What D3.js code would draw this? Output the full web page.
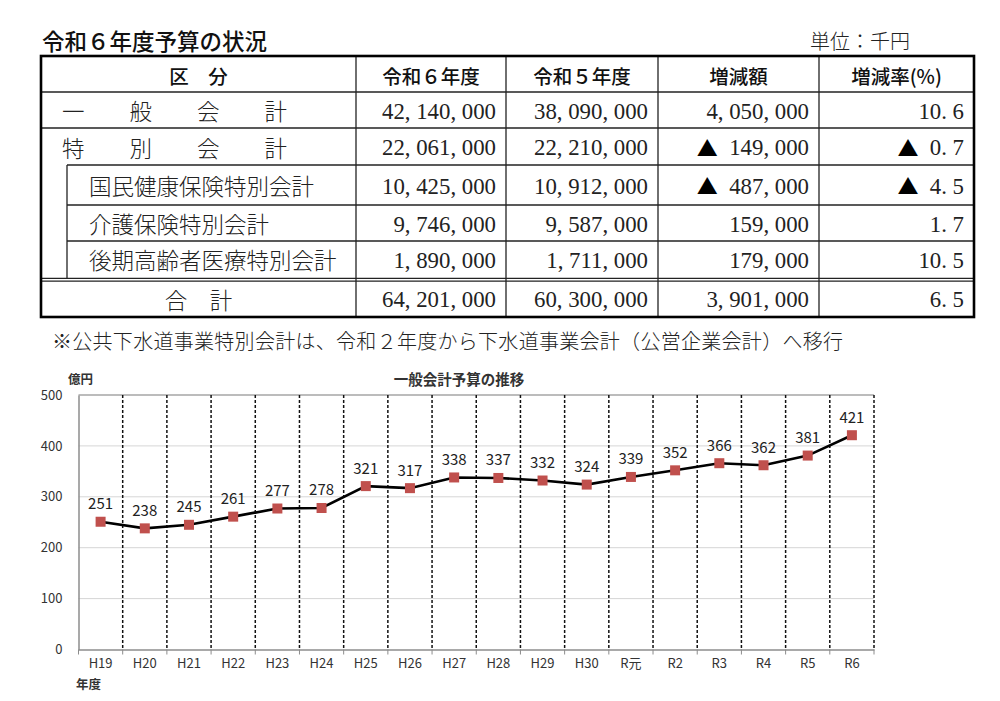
<!DOCTYPE html>
<html><head><meta charset="utf-8">
<script src="https://cdn.jsdelivr.net/npm/d3@7"></script>
<style>body{margin:0;background:#fff} svg{display:block}</style>
</head><body>
<svg id="c" width="1000" height="701"></svg>
<script>
// ---------- data ----------
const headers = ["区　分", "令和６年度", "令和５年度", "増減額", "増減率(%)"];
const rowLabels = ["一　　般　　会　　計", "特　　別　　会　　計", "国民健康保険特別会計", "介護保険特別会計", "後期高齢者医療特別会計", "合　計"];
const budgetR6 = [42140000, 22061000, 10425000, 9746000, 1890000, 64201000];
const budgetR5 = [38090000, 22210000, 10912000, 9587000, 1711000, 60300000];
const change = [4050000, -149000, -487000, 159000, 179000, 3901000];
const changeRate = [10.6, -0.7, -4.5, 1.7, 10.5, 6.5];

const years = ["H19","H20","H21","H22","H23","H24","H25","H26","H27","H28","H29","H30","R元","R2","R3","R4","R5","R6"];
const generalBudget = [251,238,245,261,277,278,321,317,338,337,332,324,339,352,366,362,381,421];
const yTicks = [0,100,200,300,400,500];

(function () {
// ---------- setup ----------
const svg = d3.select("#c");
const JP = "'Noto Sans CJK JP', sans-serif";
const SERIF = "'Liberation Serif', 'DejaVu Serif', serif";
const NARROW = "'Liberation Sans Narrow', 'Arial Narrow', 'Noto Sans CJK JP', sans-serif";

// ---------- titles ----------
svg.append("text").attr("x", 42).attr("y", 40).attr("dominant-baseline", "central")
  .attr("font-family", JP).attr("font-size", 22.5).attr("font-weight", 500).attr("fill", "#111")
  .text("令和６年度予算の状況");
svg.append("text").attr("x", 810).attr("y", 40).attr("dominant-baseline", "central")
  .attr("font-family", JP).attr("font-size", 20).attr("font-weight", 300).attr("fill", "#222")
  .text("単位：千円");

// ---------- table ----------
const colX = [41, 356, 506, 658, 819, 974];
const t = svg.append("g");
const lineC = "#222";
headers.forEach((h, i) => {
  t.append("text").attr("x", (colX[i] + colX[i+1]) / 2).attr("y", 75)
    .attr("text-anchor", "middle").attr("dominant-baseline", "central")
    .attr("font-family", JP).attr("font-size", 19.5).attr("font-weight", 500).attr("fill", "#111")
    .text(h);
});
const fmtNum = v => d3.format(",")(Math.abs(v)).replace(/,/g, ", ");
const fmtRate = v => d3.format(".1f")(Math.abs(v)).replace(".", ". ");
const rowsCenter = [110, 146.5, 185, 223, 259, 298.5];
rowLabels.forEach((lab, r) => {
  const cy = rowsCenter[r];
  const lt = t.append("text").attr("y", cy).attr("dominant-baseline", "central")
    .attr("font-family", JP).attr("font-size", 22.5).attr("font-weight", 300).attr("fill", "#222").text(lab);
  if (r < 2) lt.attr("x", 62);
  else if (r < 5) lt.attr("x", 89);
  else lt.attr("x", (colX[0] + colX[1]) / 2).attr("text-anchor", "middle");
  const cells = [fmtNum(budgetR6[r]), fmtNum(budgetR5[r]), fmtNum(change[r]), fmtRate(changeRate[r])];
  const neg = [false, false, change[r] < 0, changeRate[r] < 0];
  cells.forEach((s, c) => {
    const xr = colX[c + 2] - 10;
    const tx = t.append("text").attr("x", xr).attr("y", cy + 1).attr("text-anchor", "end")
      .attr("dominant-baseline", "central").attr("font-family", SERIF).attr("font-size", 22.8)
      .attr("fill", "#222").text(s);
    if (neg[c]) {
      const w = tx.node().getComputedTextLength();
      t.append("text").attr("x", xr - w - 11.4).attr("y", cy).attr("text-anchor", "end")
        .attr("dominant-baseline", "central").attr("font-family", JP).attr("font-size", 21)
        .attr("fill", "#000").text("▲");
    }
  });
});
const hl = (x1, x2, yy, w) => t.append("line").attr("x1", x1).attr("x2", x2).attr("y1", yy).attr("y2", yy).attr("stroke", lineC).attr("stroke-width", w || 1.3);
const vl = (xx, y1, y2, w) => t.append("line").attr("x1", xx).attr("x2", xx).attr("y1", y1).attr("y2", y2).attr("stroke", lineC).attr("stroke-width", w || 1.3);
hl(colX[0], colX[5], 92); hl(colX[0], colX[5], 128);
[165, 205, 241].forEach(yy => hl(67, colX[5], yy));
hl(colX[0], colX[5], 278.3); hl(colX[0], colX[5], 281.2);
vl(67, 165, 278.3);
[1, 2, 3, 4].forEach(i => vl(colX[i], 56, 317));
t.append("rect").attr("x", colX[0]).attr("y", 56).attr("width", colX[5] - colX[0]).attr("height", 317 - 56)
  .attr("fill", "none").attr("stroke", "#000").attr("stroke-width", 2.6);

svg.append("text").attr("x", 52).attr("y", 340).attr("dominant-baseline", "central")
  .attr("font-family", JP).attr("font-size", 20).attr("font-weight", 300).attr("fill", "#222")
  .attr("textLength", 791).attr("lengthAdjust", "spacing")
  .text("※公共下水道事業特別会計は、令和２年度から下水道事業会計（公営企業会計）へ移行");

// ---------- chart ----------
const pLeft = 78.5, pRight = 874, pTop = 395, pBottom = 649.5;
const x = d3.scaleBand().domain(years).range([pLeft, pRight]).padding(0);
const y = d3.scaleLinear().domain([0, 500]).range([pBottom, pTop]);
const g = svg.append("g");

g.selectAll(".grid").data(yTicks.filter(v => v > 0 && v < 500)).join("line")
  .attr("x1", pLeft).attr("x2", pRight).attr("y1", d => y(d)).attr("y2", d => y(d))
  .attr("stroke", "#d6d6d6").attr("stroke-width", 1);
g.append("line").attr("x1", pLeft).attr("x2", pRight).attr("y1", y(500)).attr("y2", y(500))
  .attr("stroke", "#a6a6a6").attr("stroke-width", 1.5);
g.selectAll(".sep").data(years).join("line")
  .attr("x1", d => x(d) + x.bandwidth()).attr("x2", d => x(d) + x.bandwidth())
  .attr("y1", pTop).attr("y2", pBottom)
  .attr("stroke", "#111").attr("stroke-width", 1.5).attr("stroke-dasharray", "3,2");

const yAxis = d3.axisLeft(y).tickValues(yTicks).tickSize(0).tickPadding(16);
const ya = g.append("g").attr("transform", `translate(${pLeft},0)`).call(yAxis);
ya.select(".domain").attr("stroke", "#8c8c8c").attr("stroke-width", 1.5);
ya.selectAll("text").attr("font-family", NARROW).attr("font-size", 13).attr("fill", "#333");

const xAxis = d3.axisBottom(x).tickSize(0).tickPadding(9);
const xa = g.append("g").attr("transform", `translate(0,${pBottom})`).call(xAxis);
xa.select(".domain").attr("stroke", "#8c8c8c").attr("stroke-width", 1.5);
xa.selectAll("text").attr("font-family", NARROW).attr("font-size", 13).attr("fill", "#333");
g.selectAll(".btick").data([pLeft].concat(years.map(d => x(d) + x.bandwidth()))).join("line")
  .attr("x1", d => d).attr("x2", d => d).attr("y1", pBottom).attr("y2", pBottom + 5)
  .attr("stroke", "#8c8c8c").attr("stroke-width", 1);

const cx = d => x(d) + x.bandwidth() / 2;
const line = d3.line().x((d, i) => cx(years[i])).y(d => y(d));
g.append("path").datum(generalBudget).attr("d", line).attr("fill", "none")
  .attr("stroke", "#000").attr("stroke-width", 2.6);
g.selectAll(".mk").data(generalBudget).join("rect")
  .attr("x", (d, i) => cx(years[i]) - 5).attr("y", d => y(d) - 5)
  .attr("width", 10).attr("height", 10).attr("fill", "#c0504d");
g.selectAll(".vl").data(generalBudget).join("text")
  .attr("x", (d, i) => cx(years[i])).attr("y", d => y(d) - 19)
  .attr("text-anchor", "middle").attr("dominant-baseline", "central")
  .attr("font-family", NARROW).attr("font-size", 15).attr("fill", "#222").text(d => d);

svg.append("text").attr("x", 459).attr("y", 378).attr("text-anchor", "middle").attr("dominant-baseline", "central")
  .attr("font-family", JP).attr("font-size", 14.5).attr("font-weight", 700).attr("fill", "#333")
  .text("一般会計予算の推移");
svg.append("text").attr("x", 68).attr("y", 378).attr("dominant-baseline", "central")
  .attr("font-family", JP).attr("font-size", 12.5).attr("font-weight", 700).attr("fill", "#333")
  .text("億円");
svg.append("text").attr("x", 76).attr("y", 683).attr("dominant-baseline", "central")
  .attr("font-family", JP).attr("font-size", 12.5).attr("font-weight", 700).attr("fill", "#333")
  .text("年度");
})();
</script>
</body></html>
